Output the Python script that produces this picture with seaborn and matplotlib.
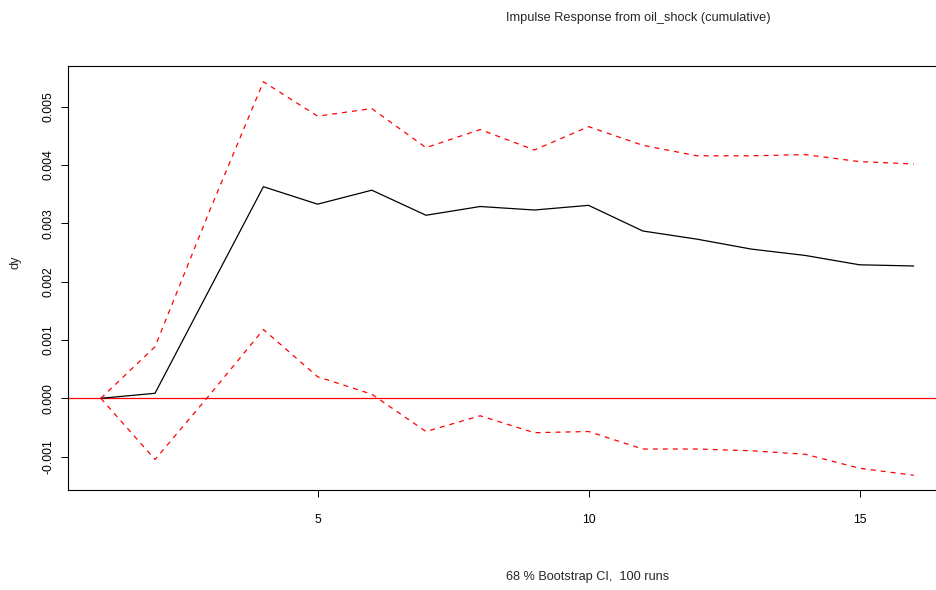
import pandas as pd
import seaborn as sns
import matplotlib.pyplot as plt

steps = list(range(1, 17))
irf = [0, 0.000086, 0.00186, 0.00363, 0.00333, 0.00357, 0.00314, 0.00329,
       0.00323, 0.00331, 0.00287, 0.00273, 0.00256, 0.00245, 0.00229, 0.00227]
upper = [0, 0.000885, 0.0032, 0.00543, 0.00484, 0.00497, 0.0043, 0.00461,
         0.00426, 0.00466, 0.00434, 0.00416, 0.00416, 0.00418, 0.00406, 0.00402]
lower = [0, -0.00105, 0.00005, 0.00118, 0.00037, 0.00007, -0.00057, -0.0003,
         -0.00059, -0.00057, -0.00087, -0.00087, -0.0009, -0.00096, -0.0012, -0.00132]
x_ticks = [5, 10, 15]
y_ticks = [-0.001, 0.0, 0.001, 0.002, 0.003, 0.004, 0.005]


def main():
    data = pd.DataFrame({"step": steps, "irf": irf, "upper": upper, "lower": lower})

    sns.set_theme(style="white")
    plt.rcParams["font.family"] = ["Liberation Sans", "DejaVu Sans"]

    fig = plt.figure(figsize=(9.37, 5.9), dpi=100)
    ax = fig.add_axes([0.0729, 0.1695, 0.937, 0.7186])

    ax.axhline(0, color="red", lw=0.9, zorder=1)
    sns.lineplot(x="step", y="irf", data=data, ax=ax, color="black", lw=0.9)
    for col in ["upper", "lower"]:
        sns.lineplot(x="step", y=col, data=data, ax=ax, color="red", lw=0.9,
                     dashes=False, linestyle=(0, (4, 4)))

    ax.set_xlim(0.4, 16.6)
    ax.set_ylim(-0.001573, 0.0057)
    ax.set_xticks(x_ticks)
    ax.set_xticklabels([str(t) for t in x_ticks])
    ax.set_yticks(y_ticks)
    ax.set_yticklabels(["%.3f" % t for t in y_ticks], rotation=90, va="center")
    ax.tick_params(axis="both", which="major", direction="out", length=5,
                   width=0.7, color="black", labelsize=8.7, labelcolor="black",
                   bottom=True, left=True)
    ax.tick_params(axis="x", pad=12)
    ax.tick_params(axis="y", pad=5)
    ax.set_xlabel("")
    ax.set_ylabel("")
    for spine in ax.spines.values():
        spine.set_color("black")
        spine.set_linewidth(0.8)

    fig.text(16 / 937, 1 - 262 / 590, "dy", rotation=90, ha="center", va="center", fontsize=9.2)
    fig.text(638 / 937, 1 - 18 / 590, "Impulse Response from oil_shock (cumulative)",
             ha="center", va="center", fontsize=9.2)
    fig.text(588 / 937, 1 - 577 / 590, "68 % Bootstrap CI,  100 runs",
             ha="center", va="center", fontsize=9.2)

    plt.savefig("out.png", dpi=100)


if __name__ == '__main__':
    main()
